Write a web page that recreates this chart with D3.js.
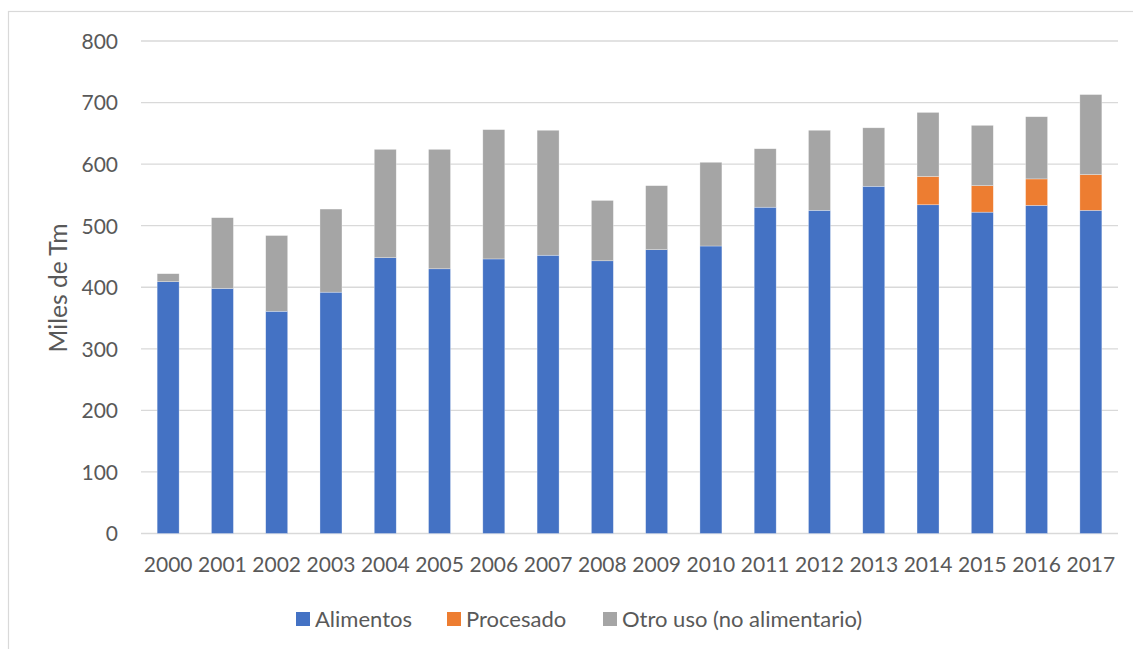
<!DOCTYPE html>
<html>
<head>
<meta charset="utf-8">
<script src="https://cdn.jsdelivr.net/npm/d3@7"></script>
<style>
  html, body { margin: 0; padding: 0; background: #fff; }
  svg { display: block; }
  text { font-family: Lato, "Open Sans", sans-serif; fill: #595959; }
</style>
</head>
<body>
<svg id="chart" width="1133" height="649"></svg>
<script>
// Consumo por destino, miles de toneladas
const years = ["2000","2001","2002","2003","2004","2005","2006","2007","2008",
               "2009","2010","2011","2012","2013","2014","2015","2016","2017"];
const alimentos = [409, 398, 361, 392, 448, 430, 446, 452, 443, 461, 467, 530, 525, 564, 534, 522, 533, 525];
const procesado = [0, 0, 0, 0, 0, 0, 0, 0, 0, 0, 0, 0, 0, 0, 46, 43, 43, 58];
const otroUso   = [13, 115, 123, 135, 176, 194, 210, 203, 98, 104, 136, 95, 130, 95, 104, 98, 101, 130];
const yTicks = [0, 100, 200, 300, 400, 500, 600, 700, 800];

const seriesNames = ["Alimentos", "Procesado", "Otro uso (no alimentario)"];
const seriesKeys = ["alimentos", "procesado", "otro"];
const colors = ["#4472C4", "#ED7D31", "#A5A5A5"];

const rows = years.map((y, i) => ({
  year: y, alimentos: alimentos[i], procesado: procesado[i], otro: otroUso[i]
}));

const svg = d3.select("#chart");

// outer frame
svg.append("rect")
  .attr("x", 8.5).attr("y", 11.5)
  .attr("width", 1300).attr("height", 1000)
  .attr("fill", "none").attr("stroke", "#d9d9d9").attr("stroke-width", 1.2);

const plot = { left: 141, right: 1118, top: 41, bottom: 533.5 };

const x = d3.scaleBand()
  .domain(years)
  .range([plot.left, plot.right])
  .paddingInner(0.595)
  .paddingOuter(0.2975);

const y = d3.scaleLinear()
  .domain([0, 800])
  .range([plot.bottom, plot.top]);

// gridlines
svg.append("g")
  .selectAll("line")
  .data(yTicks)
  .join("line")
  .attr("x1", plot.left).attr("x2", plot.right)
  .attr("y1", d => y(d)).attr("y2", d => y(d))
  .attr("stroke", "#d9d9d9").attr("stroke-width", 1.3);

// y axis labels
const yAxis = d3.axisLeft(y).tickValues(yTicks).tickSize(0).tickPadding(0);
const gy = svg.append("g").attr("transform", `translate(${plot.left - 23},0)`).call(yAxis);
gy.select(".domain").remove();
gy.selectAll("text")
  .attr("font-size", 21).attr("dy", "0.35em")
  .style("font-family", "Lato, 'Open Sans', sans-serif").attr("fill", "#595959");

// stacked bars
const stack = d3.stack().keys(seriesKeys);
const stacked = stack(rows);

svg.append("g")
  .selectAll("g")
  .data(stacked)
  .join("g")
  .attr("fill", (d, i) => colors[i])
  .selectAll("rect")
  .data(d => d.filter(s => s[1] - s[0] > 0))
  .join("rect")
  .attr("x", d => x(d.data.year))
  .attr("width", x.bandwidth())
  .attr("y", d => y(d[1]))
  .attr("height", d => y(d[0]) - y(d[1]))
  .attr("stroke", "#ffffff").attr("stroke-opacity", 0.5).attr("stroke-width", 0.6);

// x axis labels
const xAxis = d3.axisBottom(x).tickSize(0).tickPadding(0);
const gx = svg.append("g").attr("transform", `translate(0,${plot.bottom + 31})`).call(xAxis);
gx.select(".domain").remove();
gx.selectAll("text")
  .attr("font-size", 21).attr("dy", "0.35em")
  .style("font-family", "Lato, 'Open Sans', sans-serif").attr("fill", "#595959");

// y axis title, sized to span about 129px
const title = svg.append("text")
  .attr("transform", "translate(58,288) rotate(-90)")
  .attr("text-anchor", "middle").attr("dy", "0.35em")
  .attr("font-size", 21)
  .text("Miles de Tm");
const titleLen = title.node().getComputedTextLength();
if (titleLen > 0) title.attr("font-size", 21 * 129 / titleLen);

// legend
const legendX = [296, 447, 603];
const legend = svg.append("g")
  .selectAll("g")
  .data(seriesNames)
  .join("g")
  .attr("transform", (d, i) => `translate(${legendX[i]},612)`);
legend.append("rect")
  .attr("width", 14).attr("height", 14)
  .attr("fill", (d, i) => colors[i]);
legend.append("text")
  .attr("x", 19).attr("y", 7).attr("dy", "0.35em")
  .attr("font-size", 22)
  .text(d => d);
</script>
</body>
</html>
